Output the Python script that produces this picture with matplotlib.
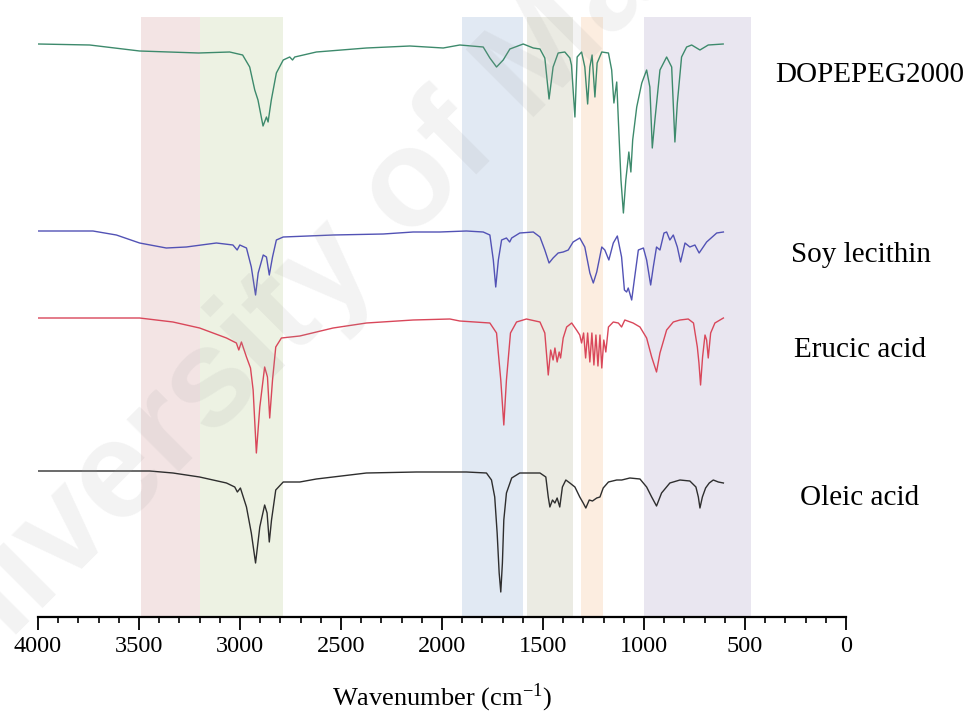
import matplotlib
matplotlib.use("Agg")
import matplotlib.pyplot as plt
from matplotlib.ticker import MultipleLocator

plt.rcParams['font.family'] = ['Liberation Serif', 'DejaVu Serif']
plt.rcParams['mathtext.fontset'] = 'stix'

# ---------------- data (wavenumber in cm-1, offset transmittance in a.u.) ----------------
dope_wn = [4000, 3744, 3497, 3205, 3051, 2987, 2952, 2927, 2911, 2886, 2869, 2861, 2845, 2820, 2786,
           2754, 2740, 2729, 2622, 2374, 2159, 1994, 1912, 1796, 1763, 1730, 1697, 1664, 1598, 1548,
           1515, 1491, 1470, 1450, 1425, 1392, 1367, 1359, 1342, 1331, 1309, 1293, 1279, 1268, 1257,
           1243, 1232, 1209, 1176, 1160, 1149, 1135, 1127, 1114, 1102, 1090, 1075, 1065, 1056, 1036,
           1011, 987, 971, 959, 946, 921, 888, 863, 847, 835, 814, 789, 764, 723, 682, 608]
dope_t = [573, 572, 566, 564, 565, 562, 550, 527, 517, 491, 500, 495, 517, 544, 557,
          560, 557, 560, 565, 569, 571, 569, 572, 570, 559, 550, 557, 568, 573, 569,
          568, 559, 518, 550, 564, 565, 559, 552, 500, 560, 565, 550, 513, 550, 562,
          520, 554, 565, 564, 547, 514, 535, 497, 437, 404, 437, 465, 445, 477, 510,
          534, 547, 530, 469, 497, 547, 560, 550, 475, 514, 560, 570, 572, 567, 572, 573]

soy_wn = [4000, 3728, 3612, 3497, 3365, 3266, 3117, 3035, 3014, 3001, 2968, 2944, 2923, 2910, 2885,
          2869, 2855, 2839, 2820, 2786, 2539, 2291, 2143, 2011, 1879, 1796, 1763, 1746, 1734, 1721,
          1705, 1681, 1665, 1655, 1615, 1548, 1515, 1491, 1470, 1450, 1425, 1400, 1375, 1351, 1318,
          1293, 1268, 1251, 1234, 1209, 1194, 1174, 1152, 1132, 1111, 1097, 1086, 1078, 1061, 1048,
          1028, 1003, 987, 967, 954, 938, 921, 901, 888, 872, 855, 835, 819, 797, 773, 748, 727, 690,
          640, 607]
soy_t = [386, 386, 382, 374, 369, 370, 374, 372, 367, 372, 369, 350, 322, 344, 362,
         360, 342, 360, 377, 380, 382, 383, 385, 385, 386, 385, 382, 357, 330, 357,
         377, 379, 375, 379, 384, 385, 380, 367, 354, 359, 364, 365, 367, 375, 379,
         370, 344, 334, 345, 370, 367, 357, 374, 381, 360, 327, 325, 329, 317, 337,
         367, 369, 357, 332, 350, 370, 367, 384, 385, 377, 382, 370, 355, 374, 370, 372, 364, 375,
         384, 385]

erucic_wn = [4000, 3497, 3332, 3200, 3067, 3018, 3006, 2993, 2968, 2948, 2935, 2919, 2902, 2878, 2864,
             2853, 2839, 2823, 2795, 2704, 2539, 2374, 2143, 1961, 1912, 1763, 1730, 1709, 1694, 1681,
             1661, 1631, 1582, 1515, 1491, 1474, 1462, 1450, 1441, 1430, 1420, 1413, 1400, 1383, 1358,
             1334, 1318, 1309, 1299, 1289, 1279, 1268, 1258, 1248, 1238, 1228, 1218, 1209, 1199, 1189,
             1176, 1152, 1127, 1111, 1095, 1054, 1020, 987, 962, 938, 921, 888, 855, 822, 781, 755,
             736, 728, 720, 710, 698, 690, 682, 670, 649, 607]
erucic_t = [299, 299, 295, 289, 279, 274, 267, 275, 260, 249, 227, 164, 210, 250, 240,
            199, 237, 270, 279, 281, 289, 294, 297, 298, 296, 294, 284, 237, 192, 237,
            284, 295, 298, 295, 284, 242, 267, 257, 269, 255, 265, 259, 279, 290, 294,
            287, 282, 274, 284, 259, 284, 255, 284, 252, 282, 251, 282, 249, 277, 265,
            290, 295, 294, 290, 297, 294, 290, 279, 260, 245, 264, 287, 295, 297, 298, 294,
            270, 254, 232, 260, 282, 277, 259, 284, 294, 299]

oleic_wn = [4000, 3447, 3332, 3200, 3067, 3026, 3013, 2998, 2968, 2944, 2923, 2902, 2878, 2866, 2855,
            2844, 2823, 2786, 2704, 2622, 2374, 2126, 1879, 1780, 1755, 1739, 1727, 1717, 1709, 1701,
            1694, 1681, 1655, 1615, 1515, 1486, 1474, 1466, 1453, 1441, 1430, 1417, 1404, 1387, 1367,
            1342, 1318, 1301, 1288, 1271, 1255, 1234, 1218, 1202, 1176, 1135, 1110, 1070, 1020, 987,
            962, 938, 913, 872, 822, 773, 743, 731, 723, 711, 695, 677, 657, 632, 607]
oleic_t = [146, 146, 144, 140, 134, 130, 125, 129, 110, 84, 54, 90, 112, 104, 75,
           97, 127, 135, 135, 138, 144, 145, 145, 144, 137, 120, 84, 44, 25, 54,
           97, 124, 139, 144, 144, 140, 120, 110, 117, 114, 119, 110, 130, 137, 134,
           130, 120, 114, 109, 117, 116, 119, 120, 129, 135, 137, 137, 139, 138, 130,
           120, 111, 124, 134, 137, 136, 130, 120, 109, 120, 129, 134, 137, 135, 134]

series_names = ["DOPEPEG2000", "Soy lecithin", "Erucic acid", "Oleic acid"]
series_colors = ["#3d8a6c", "#5252b5", "#d9475a", "#2e2e2e"]

# highlighted bands (cm-1)
band_lo = [3200, 2785, 1598, 1352, 1205, 472]
band_hi = [3492, 3200, 1902, 1580, 1313, 1000]
band_colors = ["#f3e4e4", "#edf2e3", "#e1e9f3", "#ebebe3", "#fcede0", "#e9e6f0"]

xticks_major = [4000, 3500, 3000, 2500, 2000, 1500, 1000, 500, 0]
xtick_labels = [str(v) for v in xticks_major]

# ---------------- figure ----------------
W, H = 971, 713
fig = plt.figure(figsize=(W / 100, H / 100), dpi=100)
ax = fig.add_axes([38 / W, (H - 617) / H, 808 / W, 600 / H])

for lo, hi, c in zip(band_lo, band_hi, band_colors):
    ax.axvspan(lo, hi, color=c, lw=0, zorder=0)

for wn, t, c in zip([dope_wn, soy_wn, erucic_wn, oleic_wn],
                    [dope_t, soy_t, erucic_t, oleic_t], series_colors):
    ax.plot(wn, t, color=c, lw=1.0, zorder=3)

ax.set_xlim(4000, 0)
ax.set_ylim(0, 600)
for s in ["top", "left", "right"]:
    ax.spines[s].set_visible(False)
ax.spines["bottom"].set_linewidth(1.6)
ax.set_yticks([])
ax.set_xticks(xticks_major)
ax.set_xticklabels(xtick_labels, family="Liberation Serif")
ax.xaxis.set_minor_locator(MultipleLocator(100))
ax.tick_params(axis="x", which="major", direction="out", length=9, width=1.3,
               labelsize=17.5, pad=5)
ax.tick_params(axis="x", which="minor", direction="out", length=4.5, width=1.2)
ax.set_xlabel(r"Wavenumber (cm$^{\mathregular{-1}}$)", fontsize=19)
ax.xaxis.set_label_coords(0.5, -0.108)
ax.xaxis.label.set_va("top")

# sample labels
label_x = [870, 861, 860, 860]
label_base = [82, 262, 357, 505]
for name, lx, ly in zip(series_names, label_x, label_base):
    fig.text(lx / W, 1 - ly / H, name, ha="center", va="baseline", fontsize=21)

# faint watermark
fig.text(355 / W, 1 - 245 / H, "University of Malaya", fontsize=100, fontweight="bold",
         family="Liberation Sans", color="#a0a0a0", alpha=0.13, rotation=45,
         rotation_mode="anchor", ha="center", va="center", zorder=10)

fig.savefig("out.png", dpi=100)
